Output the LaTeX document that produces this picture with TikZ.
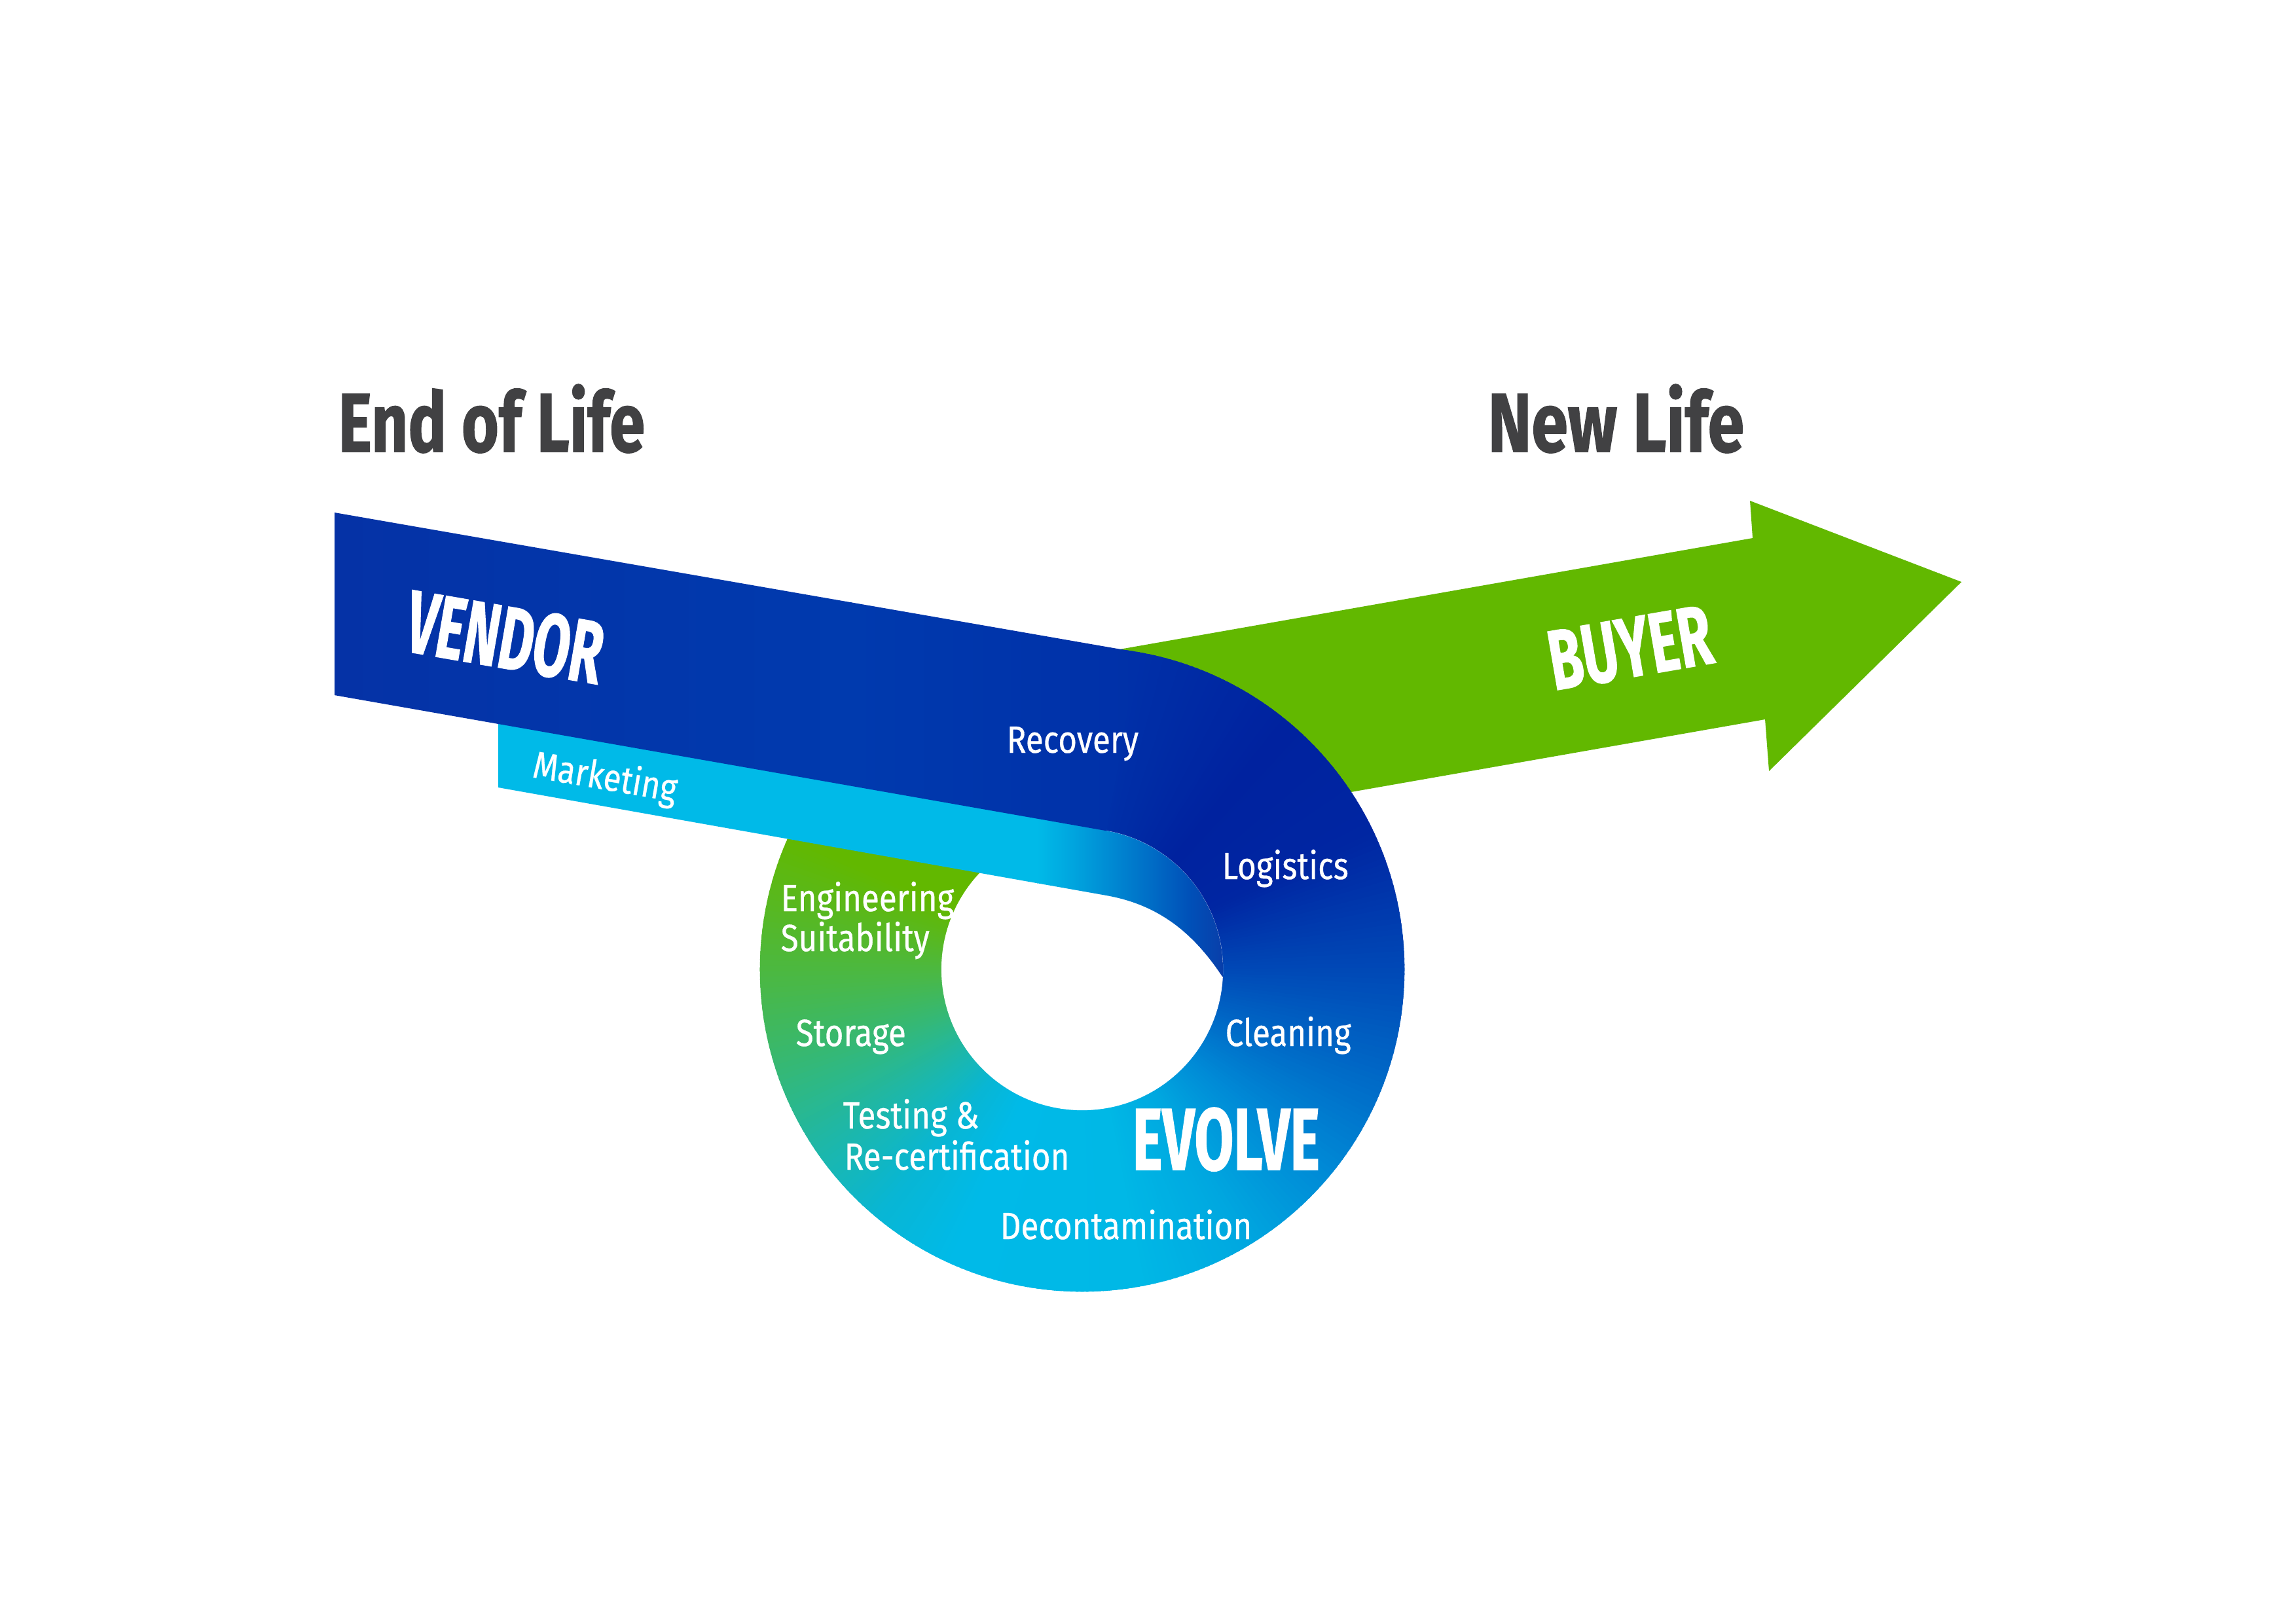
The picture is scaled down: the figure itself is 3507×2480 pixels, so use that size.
\documentclass[tikz,border=0pt]{standalone}
\usepackage{fontspec}
\usepackage{graphicx}
\setmainfont{Fira Sans}
\newfontfamily\labfont{Fira Sans}[FakeStretch=0.85,FakeBold=0.5]
\newfontfamily\headfont{Fira Sans}[BoldFeatures={FakeBold=1.2}]

\definecolor{titlegray}{HTML}{414143}
\definecolor{gr}{HTML}{62B800}
\definecolor{cy}{HTML}{00BAE8}
\definecolor{bandA}{HTML}{0532A6}
\definecolor{bandB}{HTML}{003AAE}
\definecolor{bandC}{HTML}{0030A8}
\definecolor{mkA}{HTML}{00A4DE}
\definecolor{mkB}{HTML}{0088D2}
\definecolor{mkC}{HTML}{0068C4}
\definecolor{mkD}{HTML}{0050B8}
\definecolor{mkE}{HTML}{0A3CA8}
\definecolor{rA}{HTML}{0030A8}
\definecolor{rB}{HTML}{00229F}
\definecolor{rC}{HTML}{0026A2}
\definecolor{rD}{HTML}{0048B6}
\definecolor{rE}{HTML}{0068C6}
\definecolor{rF}{HTML}{008AD6}
\definecolor{rG}{HTML}{00A8E0}
\definecolor{rH}{HTML}{00B8E6}
\definecolor{rI}{HTML}{00BAE8}
\definecolor{rJ}{HTML}{08B6D4}
\definecolor{rK}{HTML}{1CB7AC}
\definecolor{rL}{HTML}{32B87C}
\definecolor{rM}{HTML}{46B84E}
\definecolor{rN}{HTML}{56B826}
\definecolor{rO}{HTML}{62B800}

\begin{document}
\begin{tikzpicture}[x=0.01cm,y=-0.01cm,
  lab/.style={anchor=base west, inner sep=0pt, text=white,
              font=\labfont\fontsize{16.5}{19}\selectfont},
  titletext/.style={anchor=base west, inner sep=0pt, text=titlegray, font=\headfont\bfseries},
  bigword/.style={anchor=base west, inner sep=0pt, text=white, font=\headfont\bfseries}]

\useasboundingbox (0,0) rectangle (3507,2480);
\fill[white] (0,0) rectangle (3507,2480);

\coordinate (C) at (1653,1481);

% green arrow (BUYER)
\fill[gr] (1653,1002) -- (2677,822) -- (2673,765) -- (2996,889)
          -- (2702,1178) -- (2696,1099) -- (1653,1282) -- cycle;

% ring with angular gradient
\begin{scope}
  \clip (C) circle[radius=4.92cm];
  \foreach \aa/\ca/\ab/\cb in {-100/rA/-80/rA, -80/rA/-50/rB, -50/rB/-25/rC,
      -25/rC/0/rD, 0/rD/20/rE, 20/rE/40/rF, 40/rF/60/rG, 60/rG/80/rH,
      80/rH/115/rI, 115/rI/130/rJ, 130/rJ/145/rK, 145/rK/160/rL,
      160/rL/175/rM, 175/rM/190/rN, 190/rN/205/rO, 205/rO/260/rO}{
    \pgfmathtruncatemacro\n{\ab-\aa}
    \foreach \i in {1,...,\n}{
      \pgfmathsetmacro\p{100*(\i-0.5)/\n}
      \pgfmathsetmacro\ta{\aa+\i-1.3}
      \pgfmathsetmacro\tb{\aa+\i+0.3}
      \colorlet{wc}{\cb!\p!\ca}
      \fill[wc] (C) -- +(\ta:600) -- +(\tb:600) -- cycle;
    }
  }
\end{scope}
\fill[white] (C) circle[radius=2.15cm];

% Marketing ribbon
\begin{scope}
  \clip (761,1096) -- (1690.3,1259.3) -- (1690.3,1269.3)
     -- plot[domain=-80:3.2, samples=60] ({1653+215*cos(\x)},{1481+215*sin(\x)})
     -- (1867.7,1493) .. controls (1826.75,1430.75) and (1775,1383) .. (1690,1368)
     -- (761,1203) -- cycle;
  \fill[cy] (750,1050) rectangle (1585,1560);
  \shade[left color=cy, right color=mkA] (1584,1050) rectangle (1641,1560);
  \shade[left color=mkA, right color=mkB] (1640,1050) rectangle (1701,1560);
  \shade[left color=mkB, right color=mkC] (1700,1050) rectangle (1768,1560);
  \shade[left color=mkC, right color=mkD] (1767,1050) rectangle (1818,1560);
  \shade[left color=mkD, right color=mkE] (1817,1050) rectangle (1875,1560);
\end{scope}

% VENDOR band
\begin{scope}
  \clip (511,783) -- (1738.4,996.5) -- (1690.3,1269.3) -- (511,1062) -- cycle;
  \shade[left color=bandA, right color=bandB] (505,700) rectangle (1301,1300);
  \shade[left color=bandB, right color=bandC] (1300,700) rectangle (1745,1300);
\end{scope}

% titles
\node[titletext] (eol) at (516,690) {\resizebox{4.68cm}{1.03cm}{End of Life}};
\node[titletext] (newlife) at (2272,690) {\resizebox{3.91cm}{1.03cm}{New Life}};

% big words
\node[bigword, rotate=-9.8] (vendor) at (614,994) {\resizebox{3.02cm}{0.96cm}{VENDOR}};
\node[bigword, rotate=9.8] (buyer) at (2373,1055) {\resizebox{2.51cm}{0.90cm}{BUYER}};
\node[bigword] (evolve) at (1729,1787) {\resizebox{2.86cm}{0.95cm}{EVOLVE}};

% labels
\node[lab, rotate=-9.8] (marketing) at (811,1187) {Marketing};
\foreach \nm/\px/\py/\tx in {recovery/1537/1150/Recovery,
    logistics/1866/1343/Logistics, engineering/1192/1392/Engineering,
    suitability/1192/1453/Suitability, storage/1215/1598/Storage,
    cleaning/1871/1598/Cleaning, testing/1287/1724/Testing \&,
    recert/1289/1787/Re-certification, decon/1527/1893/Decontamination}{
  \node[lab] (\nm) at (\px,\py) {\tx};
}
\end{tikzpicture}
\end{document}
